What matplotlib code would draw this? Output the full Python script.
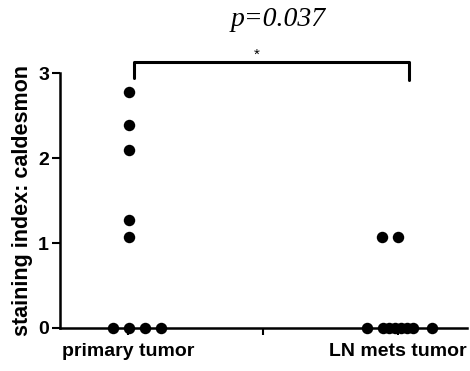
import numpy as np
import matplotlib
matplotlib.use('Agg')
import matplotlib.pyplot as plt

plt.rcParams['font.family'] = ['Liberation Sans', 'DejaVu Sans']

groups = ['primary tumor', 'LN mets tumor']
group_pos = [1, 2]

# staining index values and horizontal jitter
primary_vals = [2.78, 2.39, 2.09, 1.27, 1.07, 0, 0, 0, 0]
primary_dx = [0.004, 0.004, 0.004, 0.004, 0.004, -0.054, 0.005, 0.063, 0.122]
ln_vals = [1.07, 1.07, 0, 0, 0, 0, 0, 0, 0, 0]
ln_dx = [-0.059, 0.0, -0.116, -0.056, -0.033, -0.011, 0.011, 0.033, 0.056, 0.126]

p_text = 'p=0.037'

fig = plt.figure(figsize=(4.7, 3.71), dpi=100)
ax = fig.add_axes([0.128, 0.116, 0.866, 0.687])

ax.scatter(np.array(primary_dx) + group_pos[0], primary_vals, s=68, color='black',
           zorder=5, clip_on=False, linewidths=0)
ax.scatter(np.array(ln_dx) + group_pos[1], ln_vals, s=68, color='black',
           zorder=5, clip_on=False, linewidths=0)

ax.set_xlim(0.75, 2.255)
ax.set_ylim(0, 3)
ax.set_yticks([0, 1, 2, 3])
ax.set_yticklabels(['0', '1', '2', '3'], fontsize=14, fontweight='bold')
ax.set_xticks([1, 1.5, 2])
ax.set_xticklabels([groups[0], '', groups[1]], fontsize=14, fontweight='bold')

for s in ['top', 'right']:
    ax.spines[s].set_visible(False)
for s in ['left', 'bottom']:
    ax.spines[s].set_linewidth(1.8)
ax.tick_params(axis='y', length=6, width=1.5, pad=2)
ax.tick_params(axis='x', length=5, width=1.5, pad=6)
ax.set_ylabel('staining index: caldesmon', fontsize=15.5, fontweight='bold', labelpad=4)

# significance bracket
ax.plot([1.022, 1.022, 2.04, 2.04], [2.94, 3.13, 3.13, 2.92], color='black', lw=2.2,
        clip_on=False, solid_joinstyle='round', solid_capstyle='round')
ax.text(1.478, 3.22, '*', ha='center', va='center', fontsize=11, clip_on=False)

fig.text(278 / 470, 1 - 20 / 371, p_text, ha='center', va='center', fontsize=20,
         style='italic', family='Liberation Serif')

fig.savefig('out.png', dpi=100)
